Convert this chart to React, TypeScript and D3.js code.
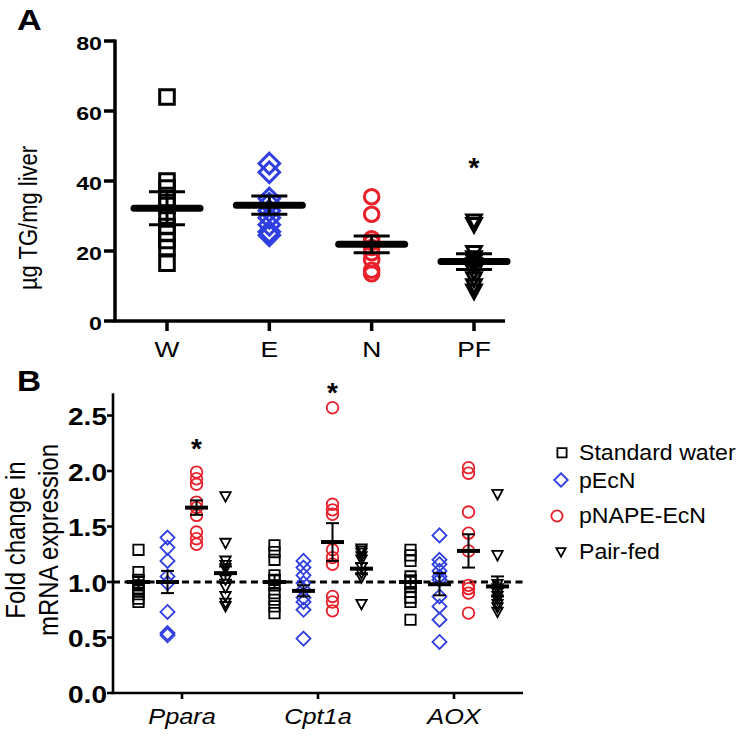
import React from 'react';
import * as d3 from 'd3';

// ---------- Panel A data ----------
const groupsA = ['W', 'E', 'N', 'PF'];
const valuesW = [64, 40, 38, 35, 33, 30, 27, 25, 23, 21, 16.5];
const valuesE = [45, 42.5, 35, 33.5, 31.5, 29.5, 27.5, 25.5, 24.5];
const valuesN = [35.5, 30.5, 23.5, 22.5, 21, 19.5, 17.5, 14.5, 13.5];
const valuesPF = [28.5, 27.5, 19.5, 18, 17, 16, 14, 12, 10, 8.5];
const meansA = [32.2, 33.1, 21.9, 17.0];
const semA = [4.7, 2.6, 2.4, 2.25];
const ticksA = [0, 20, 40, 60, 80];
const starsA = [{ group: 'PF', value: 45.5 }];

// ---------- Panel B data ----------
const genesB = ['Ppara', 'Cpt1a', 'AOX'];
const seriesB = ['Standard water', 'pEcN', 'pNAPE-EcN', 'Pair-fed'];
const waterB = [
  [1.29, 1.09, 1.02, 0.97, 0.93, 0.89, 0.85, 0.82],
  [1.33, 1.27, 1.2, 1.06, 1.02, 0.97, 0.9, 0.84, 0.78, 0.72],
  [1.29, 1.24, 1.19, 1.05, 1.0, 0.96, 0.91, 0.86, 0.82, 0.66],
];
const pEcNB = [
  [1.4, 1.31, 1.19, 1.05, 0.99, 0.73, 0.54, 0.52],
  [1.19, 1.13, 1.06, 0.99, 0.93, 0.86, 0.82, 0.75, 0.49],
  [1.42, 1.2, 1.16, 1.1, 1.05, 1.02, 0.87, 0.78, 0.66, 0.46],
];
const pNAPEB = [
  [1.99, 1.93, 1.88, 1.72, 1.67, 1.6, 1.45, 1.39, 1.34],
  [2.57, 1.7, 1.65, 1.61, 1.29, 1.22, 1.16, 0.87, 0.82, 0.74],
  [2.03, 1.98, 1.63, 1.44, 1.28, 0.97, 0.94, 0.9, 0.72],
];
const pairFedB = [
  [1.77, 1.35, 1.19, 1.15, 1.12, 1.02, 0.95, 0.87, 0.81, 0.78],
  [1.3, 1.28, 1.26, 1.23, 1.2, 1.13, 1.08, 1.04, 0.8],
  [1.79, 1.24, 0.98, 0.94, 0.9, 0.87, 0.84, 0.8, 0.77, 0.73],
];
const meansB = [
  [1.0, 1.0, 1.0],
  [1.0, 0.92, 0.98],
  [1.67, 1.36, 1.28],
  [1.08, 1.12, 0.96],
];
const semB = [
  [0.05, 0.06, 0.06],
  [0.1, 0.05, 0.1],
  [0.065, 0.17, 0.15],
  [0.06, 0.05, 0.09],
];
const ticksB = [0, 0.5, 1.0, 1.5, 2.0, 2.5];
const starsB = [
  { gene: 'Ppara', series: 'pNAPE-EcN', value: 2.25 },
  { gene: 'Cpt1a', series: 'pNAPE-EcN', value: 2.76 },
];

const FONT = '"Liberation Sans", Arial, Helvetica, sans-serif';
const BLUE = '#2f3fe0';
const RED = '#e8202a';
const shapes = ['square', 'diamond', 'circle', 'triangle'];
const colors = ['#000', BLUE, RED, '#000'];

function Marker({ shape, x, y, s, color, sw }: any) {
  if (shape === 'circle') {
    return <circle cx={x} cy={y} r={s} fill="none" stroke={color} strokeWidth={sw} />;
  }
  let d = '';
  if (shape === 'square') d = `M${x - s},${y - s}h${2 * s}v${2 * s}h${-2 * s}Z`;
  if (shape === 'diamond') d = `M${x},${y - s * 1.35}L${x + s * 1.35},${y}L${x},${y + s * 1.35}L${x - s * 1.35},${y}Z`;
  if (shape === 'triangle') d = `M${x - s},${y - s * 0.85}L${x + s},${y - s * 0.85}L${x},${y + s * 1.0}Z`;
  return <path d={d} fill="none" stroke={color} strokeWidth={sw} strokeLinejoin="miter" />;
}

function T({ x, y, k = 1, rot = 0, anchor = 'start', size, weight = 'normal', style = 'normal', children }: any) {
  return (
    <text
      transform={`translate(${x},${y}) scale(${k},1)${rot ? ` rotate(${rot})` : ''}`}
      textAnchor={anchor}
      fontSize={size}
      fontWeight={weight}
      fontStyle={style}
      fontFamily={FONT}
      fill="#000"
    >
      {children}
    </text>
  );
}

export default function App() {
  // ---- scales A
  const yA = d3.scaleLinear().domain([0, 80]).range([321, 41]);
  const xA = d3.scalePoint().domain(groupsA).range([167, 474]);
  const valsA = [valuesW, valuesE, valuesN, valuesPF];

  // ---- scales B
  const yB = d3.scaleLinear().domain([0, 2.7]).range([693, 393.3]);
  const xB = d3.scalePoint().domain(genesB).range([182, 454]);
  const offB = d3.scalePoint().domain(seriesB).range([-43.5, 43.5]);
  const valsB = [waterB, pEcNB, pNAPEB, pairFedB];

  const axA = 115;
  const axB = 113;

  return (
    <svg width={741} height={741} style={{ position: 'absolute', left: 0, top: 0, background: '#fff' }}>
      <rect width={741} height={741} fill="#fff" />
      {/* ================= Panel A ================= */}
      <T x={17} y={30} k={1.18} size={29} weight="bold">A</T>
      <T x={37} y={218} k={1.2} rot={-90} anchor="middle" size={22}>µg TG/mg liver</T>
      {/* axes */}
      <line x1={axA} x2={axA} y1={yA(80) - 1.5} y2={yA(0)} stroke="#000" strokeWidth={3.5} />
      <line x1={axA - 1.75} x2={505} y1={yA(0)} y2={yA(0)} stroke="#000" strokeWidth={3.5} />
      {ticksA.map((t) => (
        <g key={t}>
          <line x1={axA - 11} x2={axA} y1={yA(t)} y2={yA(t)} stroke="#000" strokeWidth={3.5} />
          <T x={102} y={yA(t) + 8.5} k={1.22} anchor="end" size={19} weight="bold">{t}</T>
        </g>
      ))}
      {groupsA.map((g) => (
        <g key={g}>
          <line x1={xA(g)} x2={xA(g)} y1={yA(0)} y2={yA(0) + 10} stroke="#000" strokeWidth={3.5} />
          <T x={xA(g)} y={357} k={1.2} anchor="middle" size={22}>{g}</T>
        </g>
      ))}
      {/* points */}
      {groupsA.map((g, i) =>
        valsA[i].map((v, j) => (
          <Marker key={g + j} shape={shapes[i]} x={xA(g)} y={yA(v)} s={i === 1 ? 7.6 : 7.3} color={colors[i]} sw={3} />
        ))
      )}
      {/* mean / sem */}
      {groupsA.map((g, i) => {
        const x = xA(g) as number;
        const hi = yA(meansA[i] + semA[i]);
        const lo = yA(meansA[i] - semA[i]);
        return (
          <g key={'m' + g} stroke="#000">
            <line x1={x} x2={x} y1={hi} y2={lo} strokeWidth={3} />
            <line x1={x - 18} x2={x + 18} y1={hi} y2={hi} strokeWidth={3} />
            <line x1={x - 18} x2={x + 18} y1={lo} y2={lo} strokeWidth={3} />
            <line x1={x - 33} x2={x + 33} y1={yA(meansA[i])} y2={yA(meansA[i])} strokeWidth={7} strokeLinecap="round" />
          </g>
        );
      })}
      {starsA.map((s, i) => (
        <T key={'sa' + i} x={xA(s.group)} y={yA(s.value) + 15} anchor="middle" size={28} weight="bold">*</T>
      ))}

      {/* ================= Panel B ================= */}
      <T x={17} y={391} k={1.15} size={29} weight="bold">B</T>
      <T x={25} y={540} k={1.15} rot={-90} anchor="middle" size={24}>Fold change in</T>
      <T x={58} y={540} k={1.15} rot={-90} anchor="middle" size={24}>mRNA expression</T>
      <line x1={axB} x2={axB} y1={yB(2.7)} y2={yB(0)} stroke="#000" strokeWidth={2.6} />
      <line x1={axB - 1.3} x2={523} y1={yB(0)} y2={yB(0)} stroke="#000" strokeWidth={2.6} />
      {ticksB.map((t) => (
        <g key={t}>
          <line x1={axB - 6} x2={axB} y1={yB(t)} y2={yB(t)} stroke="#000" strokeWidth={2.6} />
          <T x={107} y={yB(t) + 9.5} k={1.17} anchor="end" size={24} weight="bold">{t.toFixed(1)}</T>
        </g>
      ))}
      {genesB.map((g) => (
        <g key={g}>
          <line x1={xB(g)} x2={xB(g)} y1={yB(0)} y2={yB(0) + 6} stroke="#000" strokeWidth={2.6} />
          <T x={xB(g)} y={724} k={1.15} anchor="middle" size={22} style="italic">{g}</T>
        </g>
      ))}
      {/* reference dashed line at 1.0 */}
      <line x1={axB} x2={525} y1={yB(1)} y2={yB(1)} stroke="#000" strokeWidth={3} strokeDasharray="7 4.5" />
      {/* points */}
      {seriesB.map((s, si) =>
        genesB.map((g, gi) =>
          valsB[si][gi].map((v, j) => (
            <Marker
              key={s + g + j}
              shape={shapes[si]}
              x={(xB(g) as number) + (offB(s) as number)}
              y={yB(v)}
              s={si === 2 ? 5.8 : 5.2}
              color={colors[si]}
              sw={1.8}
            />
          ))
        )
      )}
      {/* mean / sem */}
      {seriesB.map((s, si) =>
        genesB.map((g, gi) => {
          const x = (xB(g) as number) + (offB(s) as number);
          const m = meansB[si][gi];
          const e = semB[si][gi];
          return (
            <g key={'mb' + s + g} stroke="#000">
              <line x1={x} x2={x} y1={yB(m + e)} y2={yB(m - e)} strokeWidth={2} />
              <line x1={x - 6.5} x2={x + 6.5} y1={yB(m + e)} y2={yB(m + e)} strokeWidth={2} />
              <line x1={x - 6.5} x2={x + 6.5} y1={yB(m - e)} y2={yB(m - e)} strokeWidth={2} />
              <line x1={x - 11.5} x2={x + 11.5} y1={yB(m)} y2={yB(m)} strokeWidth={4} />
            </g>
          );
        })
      )}
      {starsB.map((s, i) => (
        <T
          key={'sb' + i}
          x={(xB(s.gene) as number) + (offB(s.series) as number)}
          y={yB(s.value) + 15}
          anchor="middle"
          size={28}
          weight="bold"
        >
          *
        </T>
      ))}
      {/* legend */}
      {seriesB.map((s, si) => {
        const rowsY = [452.7, 480, 516, 552];
        const mx = [562, 561, 557, 561];
        const base = [460, 488, 523, 559];
        return (
          <g key={'lg' + s}>
            <Marker
              shape={shapes[si]}
              x={mx[si]}
              y={rowsY[si]}
              s={si === 2 ? 5.6 : si === 1 ? 5 : 4.6}
              color={colors[si]}
              sw={1.8}
            />
            <T x={579} y={base[si]} k={1.05} size={22}>{s}</T>
          </g>
        );
      })}
    </svg>
  );
}
